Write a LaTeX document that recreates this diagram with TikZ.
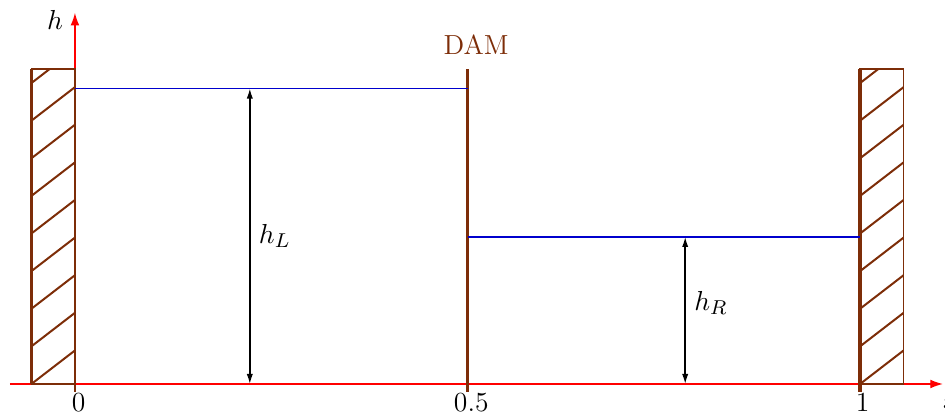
\documentclass[tikz,border=0pt]{standalone}
\usepackage{amsmath}
\usepackage{tikz}
\usetikzlibrary{arrows.meta}

\definecolor{wallbrown}{RGB}{125,45,8}
\definecolor{levelblue}{RGB}{0,0,205}

\begin{document}
\begin{tikzpicture}[
	every node/.style={font=\fontsize{11pt}{13pt}\selectfont},
	wall/.style={wallbrown, line width=1.5pt},
	walledge/.style={wallbrown, line width=0.6pt},
	hatch/.style={wallbrown, line width=0.8pt},
	level/.style={levelblue, line width=0.9pt},
	axis/.style={red, line width=0.5pt, -{Latex[length=5pt, width=3.5pt]}},
	gauge/.style={line width=0.6pt, {Latex[length=4pt, width=2.5pt]}-{Latex[length=4pt, width=2.5pt]}}
]
	\useasboundingbox (-1.05, -0.42) rectangle (12.19, 5.38);

	% axes
	\coordinate (O) at (0, 0);
	\coordinate (xstart) at (-0.91, 0);
	\coordinate (xtip) at (12.16, 0);
	\coordinate (htip) at (0, 5.20);
	\draw[axis] (xstart) -- (xtip);
	\draw[axis] (O) -- (htip);
	\node (hlab) at (-0.28, 5.10) {$h$};
	\node[anchor=north west, inner sep=1pt] (xlab) at (12.12, -0.13) {$x$};

	% walls with hatching
	\foreach \xl in {-0.61, 11} {
		\begin{scope}
			\clip (\xl, 0) rectangle ++(0.61, 4.41);
			\foreach \k in {0,...,8}
				\draw[hatch] (\xl, 0.527*\k) -- ++(0.61, 0.47);
		\end{scope}
		\draw[walledge] (\xl, 0) rectangle ++(0.61, 4.41);
	}
	\draw[wall] (-0.61, 0) -- (-0.61, 4.41);
	\draw[walledge] (0, -0.11) -- (0, 4.41);
	\draw[wall] (11, -0.11) -- (11, 4.41);

	% the dam
	\draw[wall] (5.5, -0.11) -- (5.5, 4.41);
	\node[wallbrown] (dam) at (5.62, 4.76) {DAM};

	% water levels
	\draw[level, line width=0.6pt] (0, 4.14) -- (5.5, 4.14);
	\draw[level, line width=1.1pt] (5.5, 2.06) -- (11, 2.06);

	\coordinate (hLbot) at (2.45, 0);
	\coordinate (hLtop) at (2.45, 4.14);
	\coordinate (hRbot) at (8.55, 0);
	\coordinate (hRtop) at (8.55, 2.06);
	\draw[gauge] (hLbot) -- (hLtop) node[midway, right] (hL) {$h_L$};
	\draw[gauge] (hRbot) -- (hRtop) node[midway, right, yshift=3pt] (hR) {$h_R$};

	% ticks
	\node[below, inner sep=0.3pt, xshift=1.5pt] (t0) at (0, -0.11) {0};
	\node[below, inner sep=0.3pt, xshift=1.5pt] (t5) at (5.5, -0.11) {0.5};
	\node[below, inner sep=0.3pt, xshift=1pt] (t1) at (11, -0.11) {1};
\end{tikzpicture}
\end{document}
